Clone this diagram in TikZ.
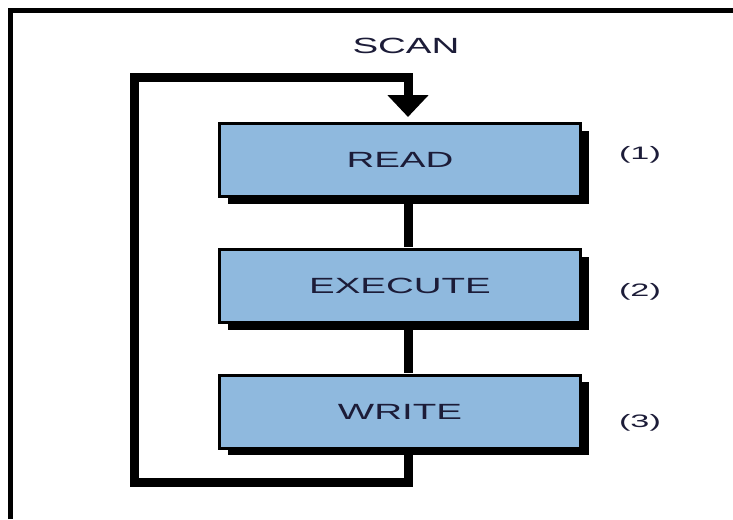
\documentclass[tikz,border=0pt]{standalone}
\usepackage{fontspec}
\usetikzlibrary{arrows.meta,shadows}
\newfontfamily\widefont[FakeStretch=1.75]{Liberation Sans}
\newfontfamily\labfont[FakeStretch=1.9]{Liberation Sans}
\definecolor{boxblue}{RGB}{143,185,222}
\definecolor{txtnavy}{RGB}{28,28,56}
\tikzset{
  stepbox/.style={draw=black, line width=3pt, fill=boxblue, minimum width=361pt, minimum height=73pt,
    inner sep=0pt, text=txtnavy, font=\widefont\fontsize{22}{26}\selectfont,
    drop shadow={shadow xshift=8pt, shadow yshift=-7pt, fill=black, opacity=1}},
  numlabel/.style={text=txtnavy, font=\labfont\fontsize{18}{22}\selectfont, inner sep=0pt},
  flowline/.style={line width=9pt, draw=black},
  frameline/.style={line width=5pt, draw=black}
}
\begin{document}
\begin{tikzpicture}[x=1pt,y=-1pt]
\useasboundingbox (0,0) rectangle (733,519);
% outer frame (top and left only)
\draw[frameline] (10.5,519) -- (10.5,10.5) -- (733,10.5);
% boxes
\node[stepbox] (read) at (400,160) {READ};
\node[stepbox] (exec) at (400,286) {EXECUTE};
\node[stepbox] (write) at (400,411.5) {WRITE};
% labels
\node[numlabel] (l1) at (640,155) {(1)};
\node[numlabel] (l2) at (640,292) {(2)};
\node[numlabel] (l3) at (640,423) {(3)};
\node[text=txtnavy, font=\widefont\fontsize{22}{26}\selectfont, inner sep=0pt] (scan) at (406,46) {SCAN};
% connectors
\coordinate (lx) at (408,0);
\coordinate (bl) at (134,482);
\coordinate (tl) at (134,77);
\draw[flowline] ([yshift=-1pt]read.south -| lx) -- ([yshift=1pt]exec.north -| lx);
\draw[flowline] ([yshift=-1pt]exec.south -| lx) -- ([yshift=1pt]write.north -| lx);
\draw[flowline, line join=miter, -{Triangle[width=40pt,length=22pt]}, shorten >=5pt]
  ([yshift=-1pt]write.south -| lx) |- (bl) -- (tl) -| (read.north -| lx);
\end{tikzpicture}
\end{document}
